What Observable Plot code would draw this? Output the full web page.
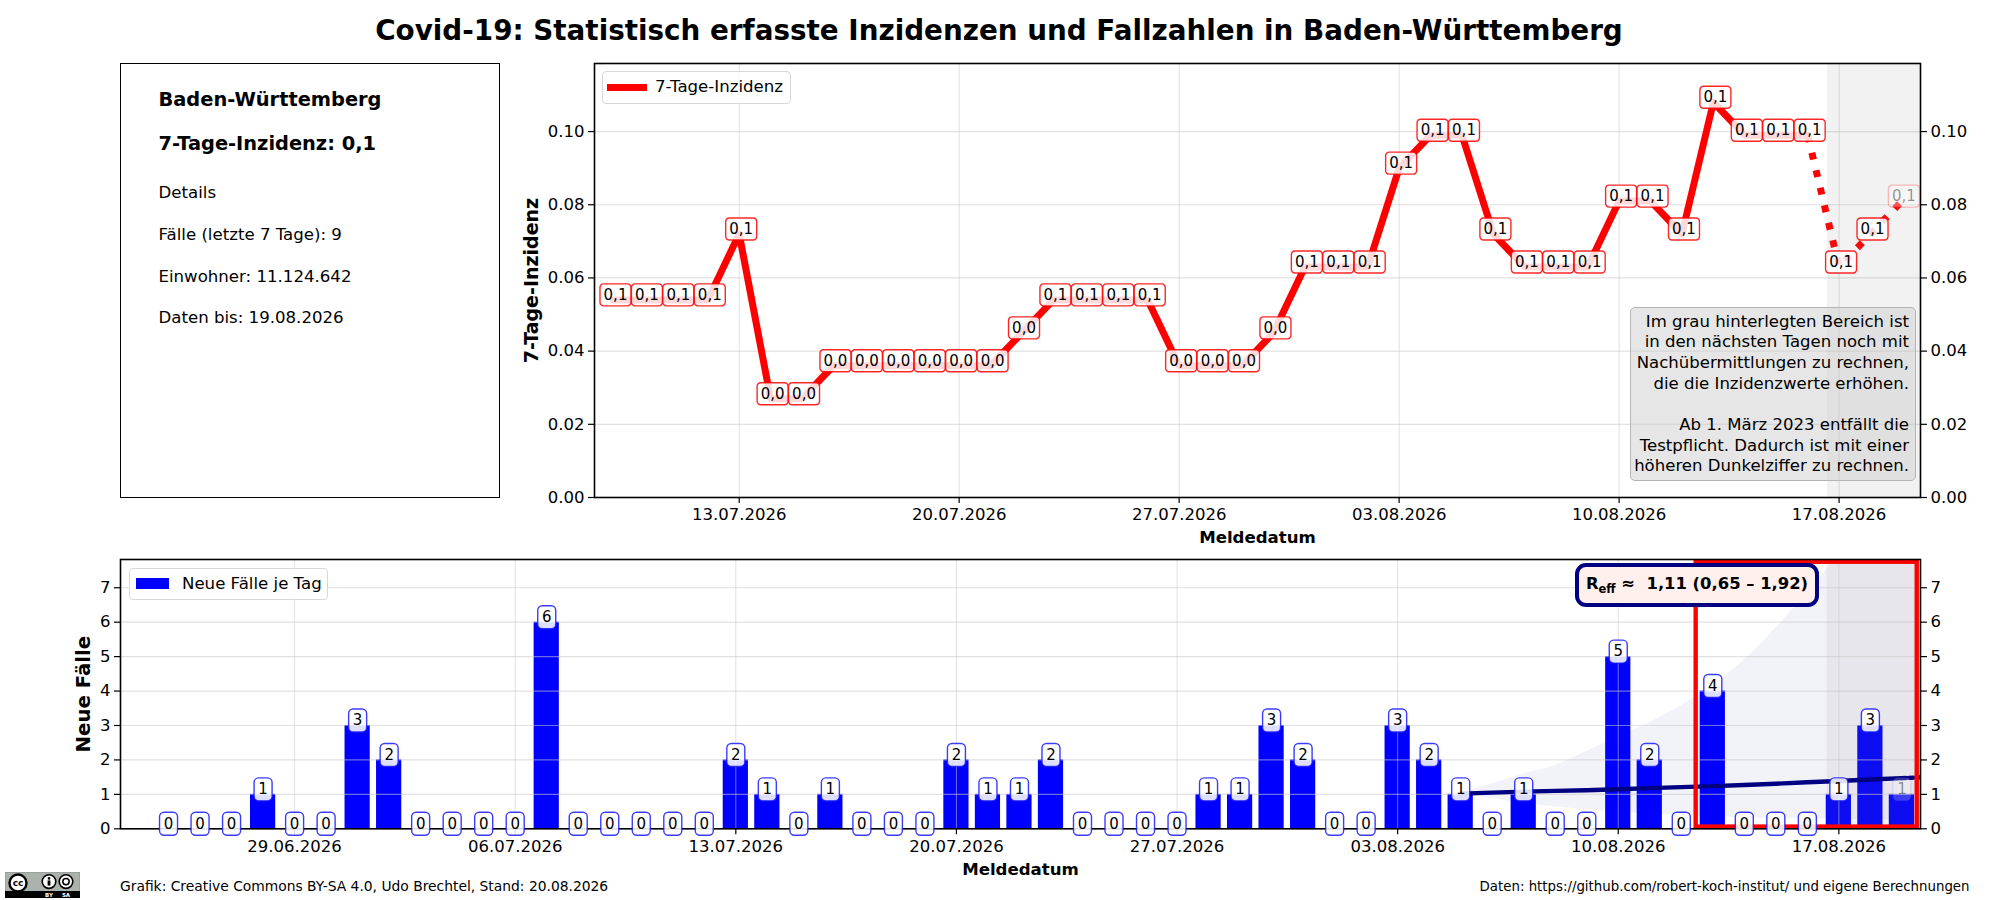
<!DOCTYPE html>
<html lang="de">
<head>
<meta charset="utf-8">
<script src="https://cdn.jsdelivr.net/npm/d3@7"></script>
<script src="https://cdn.jsdelivr.net/npm/@observablehq/plot@0.6"></script>
<style>
html,body{margin:0;padding:0;background:#fff;}
#page{position:relative;width:2000px;height:900px;overflow:hidden;font-family:"DejaVu Sans",sans-serif;color:#000;}
#page>*{position:absolute;}
#title{left:0;width:1998px;top:11px;text-align:center;font-size:27.8px;font-weight:bold;line-height:40px;}
#panel{left:120px;top:63px;width:378px;height:433px;border:1.4px solid #000;box-sizing:content-box;}
.pt{position:absolute;left:37.5px;white-space:nowrap;font-size:16.6px;line-height:20px;}
.pb{font-weight:bold;font-size:19.4px;line-height:24px;}
.legend{background:rgba(255,255,255,.8);border:1.4px solid #d8d8d8;border-radius:4px;box-sizing:border-box;font-size:16.6px;}
.legend span{position:absolute;white-space:nowrap;}
.legend i{position:absolute;display:block;}
#note{left:1629.5px;top:306.7px;width:286.5px;height:174px;box-sizing:border-box;border:1.4px solid #b4b4b4;border-radius:5px;background:rgba(205,205,205,.5);font-size:16.55px;line-height:20.65px;text-align:right;white-space:pre;padding:4px 6px 0 0;}
#reff{left:1575px;top:562.7px;width:244px;height:44px;box-sizing:border-box;border:4.4px solid #000080;border-radius:11px;background:#fff0ee;font-size:16.4px;font-weight:bold;text-align:center;line-height:34px;white-space:nowrap;}
#reff sub{font-size:11.5px;line-height:0;}
.foot{white-space:nowrap;line-height:18px;}
</style>
</head>
<body>
<div id="page"></div>
<script>
// --- Texts ---
const chartTitle = "Covid-19: Statistisch erfasste Inzidenzen und Fallzahlen in Baden-Württemberg";
const panelTitle = "Baden-Württemberg";
const panelValue = "7-Tage-Inzidenz: 0,1";
const panelLines = ["Details", "Fälle (letzte 7 Tage): 9", "Einwohner: 11.124.642", "Daten bis: 19.08.2026"];
const noteText = "Im grau hinterlegten Bereich ist\nin den nächsten Tagen noch mit\nNachübermittlungen zu rechnen,\ndie die Inzidenzwerte erhöhen.\n\nAb 1. März 2023 entfällt die\nTestpflicht. Dadurch ist mit einer\nhöheren Dunkelziffer zu rechnen.";
const footLeft = "Grafik: Creative Commons BY-SA 4.0, Udo Brechtel, Stand: 20.08.2026";
const footRight = "Daten: https://github.com/robert-koch-institut/ und eigene Berechnungen";

// --- Data: 7-day incidence ---
const incidenceDays = ["07-09","07-10","07-11","07-12","07-13","07-14","07-15","07-16","07-17","07-18","07-19","07-20","07-21","07-22","07-23","07-24","07-25","07-26","07-27","07-28","07-29","07-30","07-31","08-01","08-02","08-03","08-04","08-05","08-06","08-07","08-08","08-09","08-10","08-11","08-12","08-13","08-14","08-15","08-16","08-17","08-18","08-19"];
const incidenceValues = [.054,.054,.054,.054,.072,.027,.027,.036,.036,.036,.036,.036,.036,.045,.054,.054,.054,.054,.036,.036,.036,.045,.063,.063,.063,.09,.099,.099,.072,.063,.063,.063,.081,.081,.072,.108,.099,.099,.099,.063,.072,.081];

// --- Data: daily cases ---
const caseDays = ["06-25","06-26","06-27","06-28","06-29","06-30","07-01","07-02","07-03","07-04","07-05","07-06","07-07","07-08","07-09","07-10","07-11","07-12","07-13","07-14","07-15","07-16","07-17","07-18","07-19","07-20","07-21","07-22","07-23","07-24","07-25","07-26","07-27","07-28","07-29","07-30","07-31","08-01","08-02","08-03","08-04","08-05","08-06","08-07","08-08","08-09","08-10","08-11","08-12","08-13","08-14","08-15","08-16","08-17","08-18","08-19"];
const caseValues = [0,0,0,1,0,0,3,2,0,0,0,0,6,0,0,0,0,0,2,1,0,1,0,0,0,2,1,1,2,0,0,0,0,1,1,3,2,0,0,3,2,1,0,1,0,0,5,2,0,4,0,0,0,1,3,1];

// --- Data: R-eff fan ---
const fanDays = ["08-05","08-06","08-07","08-08","08-09","08-10","08-11","08-12","08-13","08-14","08-15","08-16","08-17","08-18","08-19","08-20"];
const fanCentral = [1.02,1.05,1.08,1.10,1.12,1.15,1.18,1.21,1.24,1.27,1.31,1.35,1.39,1.43,1.47,1.51];
const fanHigh = [1.05,1.3,1.6,1.84,2.25,2.67,3.09,3.58,4.17,4.9,5.83,6.86,8,9.3,10.8,12.5];
const fanLow = [1.01,.88,.74,.64,.55,.48,.43,.39,.35,.32,.3,.29,.28,.26,.24,.22];

// --- Axis ticks and ranges ---
const weekTicksTop = ["2026-07-13","2026-07-20","2026-07-27","2026-08-03","2026-08-10","2026-08-17"];
const weekTicksBottom = ["2026-06-29","2026-07-06", ...weekTicksTop];
const incidenceTicks = [0,.02,.04,.06,.08,.10];
const caseTicks = [0,1,2,3,4,5,6,7];
const xDomainTop = ["2026-07-08T09:30Z","2026-08-19T14:10Z"];
const xDomainBottom = ["2026-06-23T11:25Z","2026-08-19T14:10Z"];
const yDomainTop = [0,.1186];
const yDomainBottom = [0,7.82];
const shadeStart = "2026-08-16T15:00Z";
const redBoxX = ["2026-08-12T11:20Z","2026-08-19T11:40Z"];
const redBoxY = [.05,7.74];

// --- helpers ---
const dayMs = 864e5;
const D = s => new Date(s.length === 5 ? `2026-${s}T00:00Z` : s.length === 10 ? `${s}T00:00Z` : s);
const FONT = '"DejaVu Sans", sans-serif';
const isLast = d => d.i === d.n - 1;
const roundBox = (w, h, r) => ({draw(c) {
  const x = w / 2, y = h / 2;
  c.moveTo(-x + r, -y); c.lineTo(x - r, -y); c.arcTo(x, -y, x, -y + r, r);
  c.lineTo(x, y - r); c.arcTo(x, y, x - r, y, r);
  c.lineTo(-x + r, y); c.arcTo(-x, y, -x, y - r, r);
  c.lineTo(-x, -y + r); c.arcTo(-x, -y, -x + r, -y, r); c.closePath();
}});
const gridColor = "#c8c8c8";
const grids = (ticks, xticks) => [
  Plot.gridX(xticks, {x: d => d, stroke: gridColor, strokeOpacity: .55, strokeWidth: 1}),
  Plot.gridY(ticks, {y: d => d, stroke: gridColor, strokeOpacity: .55, strokeWidth: 1.2})
];
const axes = (ticks, fmt, xticks) => [
  Plot.axisX({ticks: xticks, tickFormat: d3.utcFormat("%d.%m.%Y"), anchor: "bottom", fontSize: 16.5, tickSize: 6, tickPadding: 5, label: null, stroke: "#000", strokeWidth: 1.2, fill: "#000"}),
  Plot.axisY({ticks, tickFormat: fmt, anchor: "left", fontSize: 16.5, tickSize: 6, tickPadding: 4, label: null, stroke: "#000", strokeWidth: 1.2, fill: "#000"}),
  Plot.axisY({ticks, tickFormat: fmt, anchor: "right", fontSize: 16.5, tickSize: 6, tickPadding: 4, label: null, stroke: "#000", strokeWidth: 1.2, fill: "#000"}),
  Plot.frame({stroke: "#000", strokeWidth: 1.6})
];
const titleText = (t, opts) => Plot.text([t], {text: d => d, fontWeight: "bold", fill: "#000", textAnchor: "middle", lineAnchor: "middle", ...opts});

// --- top chart ---
const incidenceRows = incidenceDays.map((s, i) => ({date: D(s), value: incidenceValues[i], label: incidenceValues[i].toFixed(1).replace(".", ","), i, n: incidenceDays.length}));
const solidRows = incidenceRows.slice(0, incidenceDays.indexOf("08-16") + 1);
const dottedRows = incidenceRows.slice(incidenceDays.indexOf("08-16"));

const topChart = Plot.plot({
  width: 2000, height: 560,
  marginLeft: 594, marginRight: 80, marginTop: 63, marginBottom: 63,
  style: {fontFamily: FONT, background: "transparent", overflow: "visible"},
  x: {type: "utc", domain: xDomainTop.map(D)},
  y: {domain: yDomainTop},
  marks: [
    ...grids(incidenceTicks, weekTicksTop.map(D)),
    Plot.line(solidRows, {x: "date", y: "value", stroke: "#ff0000", strokeWidth: 7}),
    Plot.line(dottedRows, {x: "date", y: "value", stroke: "#ff0000", strokeWidth: 7, strokeDasharray: "7 11", strokeLinecap: "butt"}),
    Plot.rect([shadeStart], {x1: d => D(d), x2: () => D(xDomainTop[1]), y1: () => yDomainTop[0], y2: () => yDomainTop[1], fill: "#808080", fillOpacity: .1}),
    ...axes(incidenceTicks, d3.format(".2f"), weekTicksTop.map(D)),
    Plot.dot(incidenceRows, {x: "date", y: "value", symbol: roundBox(31, 22, 3.5), r: 5, dx: 2, dy: -5, fill: "#fff", fillOpacity: d => isLast(d) ? .3 : .85, stroke: "#ff0000", strokeWidth: 1.4, strokeOpacity: d => isLast(d) ? .25 : .85}),
    Plot.text(incidenceRows, {x: "date", y: "value", text: "label", dx: 2, dy: -5, fontSize: 15, fill: "#000", fillOpacity: d => isLast(d) ? .42 : 1, lineAnchor: "middle"}),
    titleText("7-Tage-Inzidenz", {frameAnchor: "left", dx: -63, rotate: -90, fontSize: 19}),
    titleText("Meldedatum", {frameAnchor: "bottom", dy: 40, fontSize: 16.6})
  ]
});

// --- bottom chart ---
const caseRows = caseDays.map((s, i) => ({date: D(s), value: caseValues[i], i, n: caseDays.length}));
const fanRows = fanDays.map((s, i) => ({date: D(s), central: fanCentral[i], high: fanHigh[i], low: fanLow[i]}));
const fanSolid = fanRows.slice(0, fanDays.indexOf("08-19") + 1);
const fanDotted = fanRows.slice(fanDays.indexOf("08-19"));

const bottomChart = Plot.plot({
  width: 2000, height: 360,
  marginLeft: 120, marginRight: 80, marginTop: 19, marginBottom: 71.7,
  style: {fontFamily: FONT, background: "transparent", overflow: "visible"},
  x: {type: "utc", domain: xDomainBottom.map(D)},
  y: {domain: yDomainBottom},
  marks: [
    Plot.areaY(fanRows, {x: "date", y1: "low", y2: "high", fill: "#000080", fillOpacity: .05, clip: true, curve: "monotone-x"}),
    Plot.rectY(caseRows, {x1: d => new Date(+d.date - .4 * dayMs), x2: d => new Date(+d.date + .4 * dayMs), y1: () => 0, y2: "value", fill: "#0000ff", inset: 0}),
    Plot.rect([shadeStart], {x1: d => D(d), x2: () => D(xDomainBottom[1]), y1: () => yDomainBottom[0], y2: () => yDomainBottom[1], fill: "#808080", fillOpacity: .1}),
    ...grids(caseTicks, weekTicksBottom.map(D)),
    Plot.line(fanSolid, {x: "date", y: "central", stroke: "#000080", strokeWidth: 4.4, clip: true}),
    Plot.line(fanDotted, {x: "date", y: "central", stroke: "#000080", strokeWidth: 4.4, strokeDasharray: "4 3", clip: true}),
    Plot.rect([0], {x1: () => D(redBoxX[0]), x2: () => D(redBoxX[1]), y1: () => redBoxY[0], y2: () => redBoxY[1], fill: "none", stroke: "#ff0000", strokeWidth: 4.4}),
    ...axes(caseTicks, d3.format("d"), weekTicksBottom.map(D)),
    Plot.dot(caseRows, {x: "date", y: "value", symbol: roundBox(18, 23, 4.5), r: 5, dy: -5, fill: "#fff", fillOpacity: d => isLast(d) ? .2 : .87, stroke: "#1a1aff", strokeWidth: 1.4, strokeOpacity: d => isLast(d) ? .1 : .85}),
    Plot.text(caseRows, {x: "date", y: "value", text: d => String(d.value), dy: -5, fontSize: 15, fill: "#000", fillOpacity: d => isLast(d) ? .42 : 1, lineAnchor: "middle"}),
    titleText("Neue Fälle", {frameAnchor: "left", dx: -37, rotate: -90, fontSize: 19.7}),
    titleText("Meldedatum", {frameAnchor: "bottom", dy: 41, fontSize: 16.6})
  ]
});

// --- page assembly ---
const page = document.getElementById("page");
const add = (tag, props = {}) => { const e = document.createElement(tag); Object.assign(e, props); page.appendChild(e); return e; };

topChart.style.cssText += ";position:absolute;left:0;top:0;";
bottomChart.style.cssText += ";position:absolute;left:0;top:540px;";
page.appendChild(topChart);
page.appendChild(bottomChart);

add("div", {id: "title", textContent: chartTitle});

const panel = add("div", {id: "panel"});
const panelTops = [[panelTitle, 24, true], [panelValue, 68, true], [panelLines[0], 119, false], [panelLines[1], 160.5, false], [panelLines[2], 202.5, false], [panelLines[3], 244, false]];
for (const [t, y, b] of panelTops) {
  const e = document.createElement("div");
  e.className = "pt" + (b ? " pb" : "");
  e.textContent = t; e.style.top = y + "px";
  panel.appendChild(e);
}

const legendTop = add("div", {className: "legend", innerHTML: '<i style="left:3.5px;top:11.5px;width:40px;height:7px;background:#ff0000"></i><span style="left:52px;top:5px">7-Tage-Inzidenz</span>'});
legendTop.style.cssText = "left:602px;top:71px;width:189px;height:33px;";
const legendBottom = add("div", {className: "legend", innerHTML: '<i style="left:6px;top:8.5px;width:33px;height:11.5px;background:#0000ff"></i><span style="left:52.5px;top:4.5px">Neue Fälle je Tag</span>'});
legendBottom.style.cssText = "left:128.5px;top:568px;width:199.5px;height:32px;";

add("div", {id: "note", textContent: noteText});
add("div", {id: "reff", innerHTML: 'R<sub>eff</sub> ≈&nbsp; 1,11 (0,65 – 1,92)'});

const fl = add("div", {className: "foot", textContent: footLeft}); fl.style.cssText = "left:120px;top:877px;font-size:13.85px;";
const fr = add("div", {className: "foot", textContent: footRight}); fr.style.cssText = "right:30.5px;top:878px;font-size:13.34px;";

const logo = add("div");
logo.style.cssText = "left:5px;top:872px;width:75px;height:26px;";
logo.innerHTML = `<svg width="75" height="26" viewBox="0 0 75 26" style="display:block;font-family:'DejaVu Sans'">
<rect width="75" height="26" fill="#aab2ab" stroke="#777" stroke-width=".6"/><rect y="19" width="75" height="7" fill="#000"/>
<circle cx="13" cy="11" r="8.5" fill="#fff" stroke="#000" stroke-width="2.4"/>
<text x="13" y="14" font-size="9" font-weight="bold" text-anchor="middle">cc</text>
<circle cx="44" cy="9.6" r="6.8" fill="#fff" stroke="#000" stroke-width="1.6"/><circle cx="44" cy="6.4" r="1.3"/><rect x="42.6" y="8.4" width="2.8" height="5.2"/>
<circle cx="61" cy="9.6" r="6.8" fill="#fff" stroke="#000" stroke-width="1.6"/><circle cx="61" cy="9.6" r="3.2" fill="none" stroke="#000" stroke-width="1.5"/>
<text x="44" y="25" font-size="5.5" font-weight="bold" fill="#fff" text-anchor="middle">BY</text>
<text x="61" y="25" font-size="5.5" font-weight="bold" fill="#fff" text-anchor="middle">SA</text></svg>`;
</script>
</body>
</html>
